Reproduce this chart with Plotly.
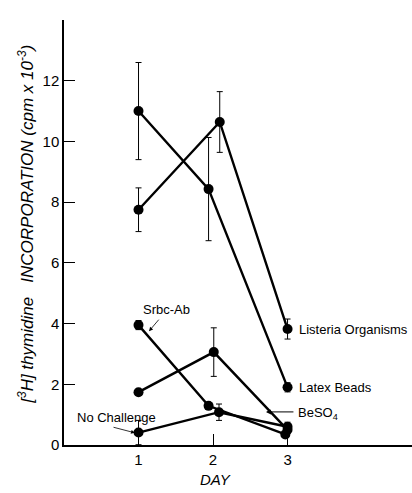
import plotly.graph_objects as go

# ---- data ----
latex_x = [1.0, 1.94, 3.0]
latex_y = [11.0, 8.43, 1.9]
latex_err = [1.6, 1.7, 0.15]

listeria_x = [1.0, 2.09, 3.0]
listeria_y = [7.75, 10.64, 3.82]
listeria_err = [0.72, 1.0, 0.33]

srbc_x = [1.0, 1.94, 2.97]
srbc_y = [3.95, 1.29, 0.35]
srbc_err = [0.15, 0.1, 0.0]

beso4_x = [1.0, 2.01, 3.0]
beso4_y = [1.74, 3.06, 0.5]
beso4_err = [0.0, 0.8, 0.1]

noch_x = [1.0, 2.08, 3.0]
noch_y = [0.41, 1.08, 0.6]
noch_err = [0.4, 0.27, 0.15]

y_ticks = [0, 2, 4, 6, 8, 10, 12]
x_ticks = [1, 2, 3]

series = [
    (latex_x, latex_y, latex_err, "Latex Beads"),
    (listeria_x, listeria_y, listeria_err, "Listeria Organisms"),
    (srbc_x, srbc_y, srbc_err, "Srbc-Ab"),
    (beso4_x, beso4_y, beso4_err, "BeSO4"),
    (noch_x, noch_y, noch_err, "No Challenge"),
]

FONT = "Liberation Sans, Arial, sans-serif"

fig = go.Figure()
for xs, ys, es, name in series:
    fig.add_trace(go.Scatter(
        x=xs, y=ys, mode="lines+markers", name=name,
        line=dict(color="black", width=2.4),
        marker=dict(color="black", size=10),
        error_y=dict(type="data", array=es, visible=True, color="black",
                     thickness=1, width=3),
        showlegend=False,
    ))

ann = []
# right-side labels
ann.append(dict(x=3.128, y=listeria_y[2], text="Listeria Organisms", xanchor="left",
                showarrow=False, font=dict(size=13, family=FONT, color="black")))
ann.append(dict(x=3.128, y=latex_y[2], text="Latex Beads", xanchor="left",
                showarrow=False, font=dict(size=13, family=FONT, color="black")))
ann.append(dict(x=3.114, y=1.05, text="BeSO<sub>4</sub>", xanchor="left",
                showarrow=False, font=dict(size=13, family=FONT, color="black")))
# BeSO4 arrow
ann.append(dict(x=2.71, y=1.09, ax=29, ay=0, text="", showarrow=True,
                arrowhead=2, arrowsize=1, arrowwidth=1, arrowcolor="black"))
# Srbc-Ab label + arrow
ann.append(dict(x=1.369, y=4.45, text="Srbc-Ab", showarrow=False,
                font=dict(size=13, family=FONT, color="black")))
ann.append(dict(x=1.141, y=3.75, ax=11, ay=-13, text="", showarrow=True,
                arrowhead=2, arrowsize=1, arrowwidth=0.8, arrowcolor="black"))
# No Challenge label + arrow
ann.append(dict(x=0.711, y=0.89, text="No Challenge", showarrow=False,
                font=dict(size=13, family=FONT, color="black")))
ann.append(dict(x=0.953, y=0.40, ax=-23, ay=-6, text="", showarrow=True,
                arrowhead=2, arrowsize=1, arrowwidth=0.8, arrowcolor="black"))
# axis titles
ann.append(dict(xref="paper", yref="paper", x=0.434, y=-0.082, text="<i>DAY</i>",
                xanchor="center", yanchor="middle",
                showarrow=False, font=dict(size=15, family=FONT, color="black")))
ann.append(dict(xref="paper", yref="paper", x=-0.11, y=0.52,
                xanchor="center", yanchor="middle",
                text="<i>[<sup>3</sup>H] thymidine&nbsp;&nbsp; INCORPORATION (cpm x 10<sup>-3</sup>)</i>",
                textangle=-90, showarrow=False,
                font=dict(size=17, family=FONT, color="black")))

fig.update_layout(
    width=412, height=493,
    margin=dict(l=64, r=0, t=20, b=48),
    paper_bgcolor="white", plot_bgcolor="white",
    annotations=ann,
    font=dict(family=FONT, color="black"),
)
fig.update_xaxes(range=[0, 4.67], tickvals=x_ticks, ticktext=[str(v) for v in x_ticks],
                 showline=True, linecolor="black", linewidth=1.5,
                 ticks="inside", ticklen=11, tickwidth=1.2, tickcolor="black",
                 showgrid=False, zeroline=False, tickfont=dict(size=15, family=FONT))
fig.update_yaxes(range=[0, 14.0], tickvals=y_ticks, ticktext=[str(v) for v in y_ticks],
                 showline=True, linecolor="black", linewidth=1.5,
                 ticks="inside", ticklen=11, tickwidth=1.2, tickcolor="black",
                 showgrid=False, zeroline=False, tickfont=dict(size=15, family=FONT))

fig.write_html("out.html")
